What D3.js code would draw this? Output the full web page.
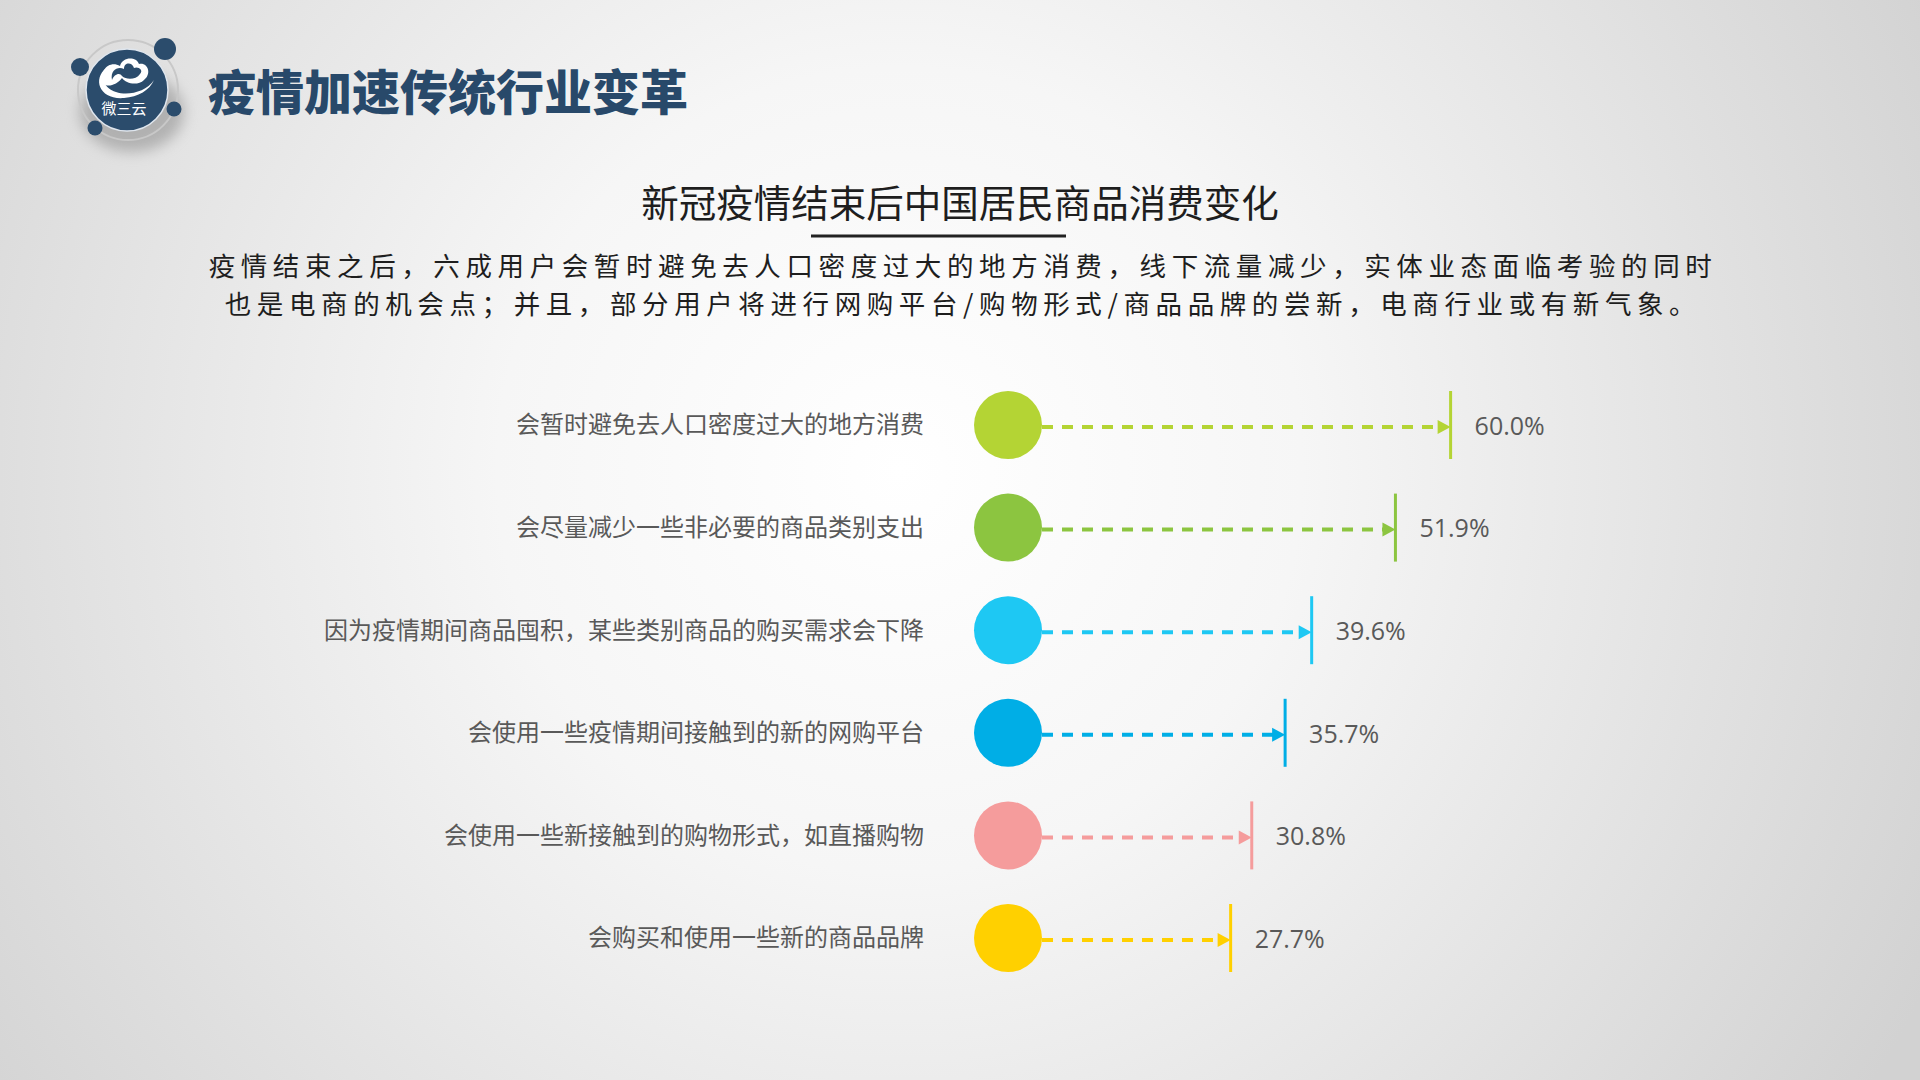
<!DOCTYPE html>
<html><head><meta charset="utf-8">
<script src="https://cdn.jsdelivr.net/npm/d3@7"></script>
<style>html,body{margin:0;padding:0;overflow:hidden;background:#e0e0e0}</style>
</head><body>
<svg id="c" width="1920" height="1080"></svg>
<script>
const pageTitle = "疫情加速传统行业变革";
const chartTitle = "新冠疫情结束后中国居民商品消费变化";
const paragraph = [
  "疫情结束之后，六成用户会暂时避免去人口密度过大的地方消费，线下流量减少，实体业态面临考验的同时",
  "也是电商的机会点；并且，部分用户将进行网购平台/购物形式/商品品牌的尝新，电商行业或有新气象。"
];
const categories = [
  "会暂时避免去人口密度过大的地方消费",
  "会尽量减少一些非必要的商品类别支出",
  "因为疫情期间商品囤积，某些类别商品的购买需求会下降",
  "会使用一些疫情期间接触到的新的网购平台",
  "会使用一些新接触到的购物形式，如直播购物",
  "会购买和使用一些新的商品品牌"
];
const values = [60.0, 51.9, 39.6, 35.7, 30.8, 27.7];
const colors = ["#b4d434", "#8cc540", "#1ec8f3", "#00aee6", "#f59c9c", "#ffd000"];

const svg = d3.select("#c");
const defs = svg.append("defs");
const bg = defs.append("radialGradient").attr("id","bg")
  .attr("gradientUnits","userSpaceOnUse").attr("cx",900).attr("cy",470).attr("r",1150);
bg.append("stop").attr("offset","0%").attr("stop-color","#ffffff");
bg.append("stop").attr("offset","35%").attr("stop-color","#f6f6f6");
bg.append("stop").attr("offset","100%").attr("stop-color","#d2d2d2");
svg.append("rect").attr("width",1920).attr("height",1080).attr("fill","url(#bg)");

// logo
const blur = defs.append("filter").attr("id","blur").attr("x","-50%").attr("y","-50%").attr("width","200%").attr("height","200%");
blur.append("feGaussianBlur").attr("stdDeviation",7);
const logo = svg.append("g");
logo.append("ellipse").attr("cx",132).attr("cy",112).attr("rx",52).attr("ry",40).attr("fill","#8a8a8a").attr("opacity",0.55).attr("filter","url(#blur)");
logo.append("circle").attr("cx",128).attr("cy",90).attr("r",50).attr("fill","none").attr("stroke","#c8c8c8").attr("stroke-width",2);
logo.append("circle").attr("cx",127).attr("cy",90).attr("r",41).attr("fill","#2b4c6c").attr("stroke","#dfe6ee").attr("stroke-width",1.5);
[[165,49,11],[80,67,9],[174,109,7.5],[95,128,7.5]].forEach(d=>{
  logo.append("circle").attr("cx",d[0]).attr("cy",d[1]).attr("r",d[2]).attr("fill","#2b4c6c");
});
// cloud swirl
logo.append("path").attr("d","M104,84 C98,70 110,60 120,66 C122,57 136,56 139,64 C148,62 152,74 144,80 C138,86 126,84 122,78 C118,84 108,88 104,84 Z M112,80 C114,74 120,72 122,76 C126,80 136,80 140,74 C144,70 138,66 134,68 C132,62 124,62 124,69 C118,66 110,70 112,80 Z")
  .attr("fill","#ffffff").attr("fill-rule","evenodd");
logo.append("path").attr("d","M106,68 C92,80 100,100 124,98 C138,97 150,90 154,80 C146,92 128,96 116,92 C104,88 100,78 106,68 Z").attr("fill","#ffffff");
logo.append("text").attr("x",124).attr("y",114).attr("text-anchor","middle")
  .attr("font-family","'Noto Sans CJK SC'").attr("font-size",15).attr("fill","#ffffff").text("微三云");

svg.append("text").attr("x",208).attr("y",110)
  .attr("font-family","'Noto Sans CJK SC'").attr("font-weight",900).attr("font-size",48)
  .attr("fill","#28496a").text(pageTitle);

svg.append("text").attr("x",960).attr("y",217).attr("text-anchor","middle")
  .attr("font-family","'Noto Sans CJK SC'").attr("font-size",37.5).attr("fill","#1e1e1e").text(chartTitle);
svg.append("line").attr("x1",811).attr("x2",1066).attr("y1",236).attr("y2",236)
  .attr("stroke","#222").attr("stroke-width",3);

svg.selectAll("text.para").data(paragraph).join("text").attr("class","para")
  .attr("x",963).attr("y",(d,i)=>276+i*38).attr("text-anchor","middle")
  .attr("font-family","'Noto Sans CJK SC'").attr("font-size",26.5).attr("letter-spacing",5.6)
  .attr("fill","#1e1e1e").text(d=>d);

// chart
const y = d3.scalePoint().domain(categories).range([425, 938]);
const x = d3.scaleLinear().domain([0, 100]).range([1042, 1723]);
const r = 34;
const data = categories.map((c,i)=>({c, v: values[i], col: colors[i]}));

const rows = svg.selectAll("g.row").data(data).join("g").attr("class","row");
rows.append("text").attr("x",924).attr("y",d=>y(d.c)).attr("dy","0.35em").attr("text-anchor","end")
  .attr("font-family","'Noto Sans CJK SC'").attr("font-size",24).attr("fill","#595959").text(d=>d.c);
rows.append("circle").attr("cx",x(0)-r).attr("cy",d=>y(d.c)).attr("r",r).attr("fill",d=>d.col);
rows.append("line").attr("x1",x(0)).attr("x2",d=>x(d.v)-12).attr("y1",d=>y(d.c)+2).attr("y2",d=>y(d.c)+2)
  .attr("stroke",d=>d.col).attr("stroke-width",4).attr("stroke-dasharray","11,9");
rows.append("path").attr("d",d=>{const xe=x(d.v), yc=y(d.c)+2; return `M${xe},${yc} L${xe-13},${yc-7} L${xe-13},${yc+7} Z`;})
  .attr("fill",d=>d.col);
rows.append("line").attr("x1",d=>x(d.v)).attr("x2",d=>x(d.v)).attr("y1",d=>y(d.c)-34).attr("y2",d=>y(d.c)+34)
  .attr("stroke",d=>d.col).attr("stroke-width",3);
rows.append("text").attr("x",d=>x(d.v)+24).attr("y",d=>y(d.c)+1)
  .attr("dy","0.35em").attr("font-family","'Open Sans'").attr("font-size",25).attr("fill","#595959")
  .text(d=>d.v.toFixed(1)+"%");
</script>
</body></html>
